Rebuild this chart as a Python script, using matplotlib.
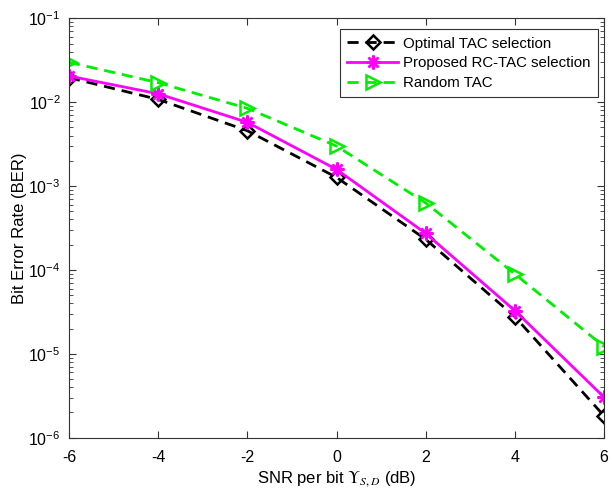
import matplotlib
matplotlib.use("Agg")
import matplotlib.pyplot as plt
from matplotlib.ticker import LogLocator, NullFormatter, FixedLocator

plt.rcParams['font.family'] = ['Liberation Sans', 'DejaVu Sans']
plt.rcParams['mathtext.fontset'] = 'stix'
plt.rcParams['axes.unicode_minus'] = False

snr_db = [-6, -4, -2, 0, 2, 4, 6]
ber_optimal = [0.0196, 0.0108, 0.00457, 0.00127, 2.32e-4, 2.77e-5, 1.82e-6]
ber_proposed = [0.0205, 0.0126, 0.00575, 0.00158, 2.73e-4, 3.27e-5, 3.04e-6]
ber_random = [0.0299, 0.0171, 0.00845, 0.0030, 6.3e-4, 8.95e-5, 1.22e-5]
x_ticks = [-6, -4, -2, 0, 2, 4, 6]

fig = plt.figure(figsize=(6.12, 4.91), dpi=100)
ax = fig.add_axes([0.1127, 0.1085, 0.8743, 0.8542])

ax.semilogy(snr_db, ber_optimal, color='black', linestyle='--', dashes=(4, 2.5),
            linewidth=2, marker='D', markersize=7.5, markerfacecolor='none',
            markeredgewidth=1.8, label='Optimal TAC selection')
ax.semilogy(snr_db, ber_proposed, color='#ff00ff', linestyle='-', linewidth=2,
            marker=(8, 2, 0), markersize=10, markeredgewidth=1.8,
            label='Proposed RC-TAC selection')
ax.semilogy(snr_db, ber_random, color='#00ee00', linestyle='--', dashes=(4, 2.5),
            linewidth=2, marker='>', markersize=10, markerfacecolor='none',
            markeredgewidth=1.8, label='Random TAC')

ax.set_xlim(-6, 6)
ax.set_ylim(1e-6, 1e-1)
ax.xaxis.set_major_locator(FixedLocator(x_ticks))
ax.yaxis.set_major_locator(LogLocator(base=10, numticks=10))
ax.yaxis.set_minor_locator(LogLocator(base=10, subs=range(2, 10), numticks=100))
ax.yaxis.set_minor_formatter(NullFormatter())

ax.tick_params(which='both', direction='in', top=True, right=True,
               labelsize=11.5, color='#333333')
ax.tick_params(which='major', length=5, width=0.8)
ax.tick_params(which='minor', length=3, width=0.6)
ax.tick_params(axis='x', pad=9)
ax.tick_params(axis='y', pad=6)
for s in ax.spines.values():
    s.set_color('#333333')
    s.set_linewidth(0.8)

ax.set_ylabel('Bit Error Rate (BER)', fontsize=12, labelpad=1)
ax.set_xlabel(r'SNR per bit $\Upsilon_{S,D}$ (dB)', fontsize=12, labelpad=3)

leg = ax.legend(loc='upper right', bbox_to_anchor=(0.9771, 0.9409),
                bbox_transform=fig.transFigure, borderaxespad=0,
                fontsize=10.8, frameon=True, fancybox=False,
                edgecolor='#333333', framealpha=1, handlelength=3.4,
                borderpad=0.5, labelspacing=0.38, handletextpad=0.3)
leg.get_frame().set_linewidth(0.8)

fig.savefig('out.png', dpi=100)
